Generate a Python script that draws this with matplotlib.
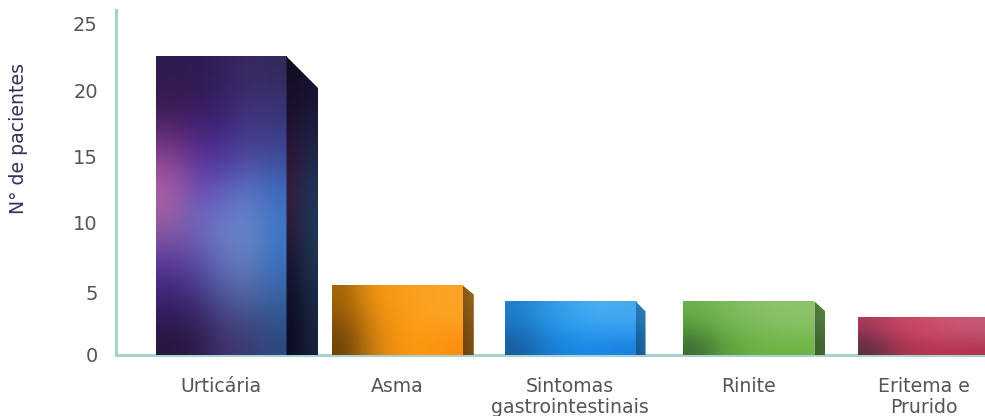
"""
Number of patients per symptom, 3D looking bars with gradient faces.
"""

import matplotlib
matplotlib.use("Agg")
import matplotlib.pyplot as plt
import numpy as np
from matplotlib.colors import to_rgb
from matplotlib.patches import Polygon
from matplotlib.transforms import ScaledTranslation

categories = ["Urticária", "Asma", "Sintomas\ngastrointestinais", "Rinite", "Eritema e\nPrurido"]
patients = [22.55, 5.25, 4.05, 4.05, 2.87]
y_ticks = [0, 5, 10, 15, 20, 25]
y_label = "N° de pacientes"

# Colours of the faces, rows go from the top of the bar to the bottom.
front_faces = [
    [["#2e1b4e", "#2e1a50", "#30205a", "#3a2a62", "#332a5c"],
     ["#3c1c52", "#3a1c60", "#36206a", "#44327c", "#383478"],
     ["#7e3a88", "#5a2c90", "#4a2c94", "#4a4296", "#3c4490"],
     ["#b060a8", "#7048b0", "#5c58b8", "#5c70c0", "#3f68bc"],
     ["#96609f", "#7068bc", "#6c80cc", "#6c8ace", "#3f78c8"],
     ["#5a3a9c", "#5a48a8", "#6470ba", "#6480c0", "#3a70bc"],
     ["#3a2070", "#3e2c7a", "#4a5496", "#50649c", "#3662a4"],
     ["#28163e", "#2c1848", "#42306a", "#3c3a72", "#2c4a80"]],
    [["#a06408", "#f09410", "#f89c18", "#fca020", "#fca428"],
     ["#8a5408", "#d88410", "#fb9a14", "#fca01c", "#fca224"],
     ["#6a4208", "#c87c10", "#f89410", "#fc9a10", "#fc8e0c"]],
    [["#1f80cc", "#2c96e4", "#3ca4ee", "#4ab0f4", "#46acf0"],
     ["#1a70bc", "#1e8ce0", "#2a9aec", "#34a0f0", "#34a0f0"],
     ["#1a5c9c", "#1878cc", "#1a88e4", "#1a88ea", "#1a80e0"]],
    [["#6ab04a", "#78b858", "#84c064", "#8cc46c", "#8cc46c"],
     ["#54983c", "#6cb048", "#78b854", "#80bc5c", "#84c060"],
     ["#3c6c34", "#5c9c3c", "#68b040", "#70b444", "#70b444"]],
    [["#a83c58", "#c84464", "#cc4c68", "#cc5470", "#c45a74"],
     ["#843050", "#b83c5c", "#c24464", "#c44c6a", "#c0506c"],
     ["#5a3044", "#a0344c", "#b83450", "#b8344e", "#b03450"]],
]
side_faces = [
    [["#120c24", "#181030"], ["#2a1438", "#1c2448"], ["#3a2040", "#1e3a60"], ["#141430", "#1c3450"], ["#0c0c20", "#18203c"]],
    [["#8a5a18", "#9a6418"], ["#6e4410", "#7a4c10"]],
    [["#2878b4", "#2c80bc"], ["#145a96", "#18649e"]],
    [["#4e7c3c", "#568440"], ["#38602c", "#406830"]],
    [["#6a2a40", "#6a2a40"], ["#6a2a40", "#6a2a40"]],
]
# Bars are not quite evenly spaced.
x_positions = [0, 1.003, 1.986, 3.004, 4.0]
# Depth of the side in pixels and how far its top falls.
side_depth = [32, 11, 10, 11, 10]
side_drop = [32, 9, 10, 10, 10]
x_unit = 175.75
y_unit = 331 / 25
bar_width = 131 / x_unit


def colour_grid(rows):
    return np.array([[to_rgb(c) for c in row] for row in rows])


def main():
    fig = plt.figure(figsize=(9.85, 4.16), dpi=100)
    ax = fig.add_axes([116 / 985, 1 - 355 / 416, 869 / 985, 345 / 416])

    for i, value in enumerate(patients):
        left = x_positions[i] - bar_width / 2
        right = x_positions[i] + bar_width / 2
        ax.imshow(colour_grid(front_faces[i]), extent=(left, right, 0, value), aspect="auto",
                  interpolation="bicubic", zorder=3)

        depth = side_depth[i] / x_unit
        drop = side_drop[i] / y_unit
        side = ax.imshow(colour_grid(side_faces[i]), extent=(right, right + depth, 0, value), aspect="auto",
                         interpolation="bicubic", zorder=3)
        shape = Polygon([(right, 0), (right + depth, 0), (right + depth, value - drop), (right, value)],
                        closed=True, transform=ax.transData, facecolor="none", edgecolor="none")
        ax.add_patch(shape)
        side.set_clip_path(shape)

    ax.set_xlim(-105 / x_unit, 764 / x_unit)
    ax.set_ylim(0, 345 / y_unit)

    for name in ["top", "right"]:
        ax.spines[name].set_visible(False)
    for name in ["left", "bottom"]:
        ax.spines[name].set_color("#a9d2ce")
        ax.spines[name].set_linewidth(2.3)
        ax.spines[name].set_zorder(1)

    ax.set_xticks(x_positions)
    ax.set_xticklabels(categories, fontsize=13.6, color="#555555", linespacing=1.12)
    ax.set_yticks(y_ticks)
    ax.set_yticklabels([str(t) for t in y_ticks], fontsize=14, color="#555555")
    ax.tick_params(axis="x", length=0, pad=16)
    ax.tick_params(axis="y", length=0, pad=13)

    # The 5 sits a bit lower than the scale in the original.
    five = ax.get_yticklabels()[1]
    five.set_transform(five.get_transform() + ScaledTranslation(0, -4 / 100, fig.dpi_scale_trans))

    fig.text(19 / 985, 1 - 139 / 416, y_label, rotation=90, fontsize=13.6, color="#3a3058",
             ha="center", va="center")

    fig.savefig("out.png", dpi=100)


if __name__ == "__main__":
    main()
